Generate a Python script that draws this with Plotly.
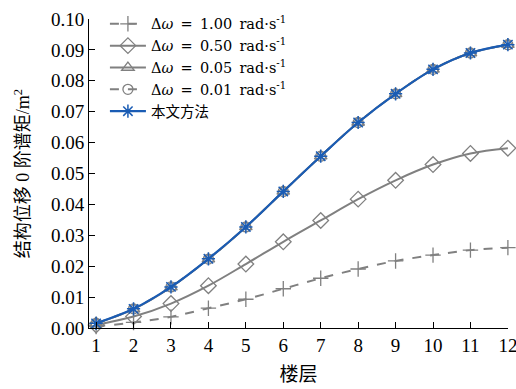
import plotly.graph_objects as go

floors = [1, 2, 3, 4, 5, 6, 7, 8, 9, 10, 11, 12]
dw_100 = [0.0005, 0.0018, 0.0036, 0.0064, 0.0093, 0.0127, 0.0161, 0.0191, 0.0217, 0.0236, 0.0252, 0.0260]
dw_050 = [0.0010, 0.0037, 0.0079, 0.0137, 0.0207, 0.0279, 0.0348, 0.0417, 0.0478, 0.0529, 0.0565, 0.0582]
dw_005 = [0.0015, 0.0061, 0.0132, 0.0223, 0.0327, 0.0442, 0.0556, 0.0665, 0.0758, 0.0837, 0.0890, 0.0917]
dw_001 = [0.0015, 0.0062, 0.0133, 0.0223, 0.0327, 0.0442, 0.0556, 0.0665, 0.0758, 0.0837, 0.0890, 0.0917]
proposed = [0.0015, 0.0062, 0.0133, 0.0224, 0.0327, 0.0442, 0.0556, 0.0665, 0.0758, 0.0837, 0.0890, 0.0917]

SP = "\u2002"
names = [
    f"Δ<i>ω</i>{SP}={SP}1.00{SP}rad·s<sup>-1</sup>",
    f"Δ<i>ω</i>{SP}={SP}0.50{SP}rad·s<sup>-1</sup>",
    f"Δ<i>ω</i>{SP}={SP}0.05{SP}rad·s<sup>-1</sup>",
    f"Δ<i>ω</i>{SP}={SP}0.01{SP}rad·s<sup>-1</sup>",
    "本文方法",
]
y_ticks = [0.00, 0.01, 0.02, 0.03, 0.04, 0.05, 0.06, 0.07, 0.08, 0.09, 0.10]

GRAY = "#808080"
BLUE = "#1a5cb4"
FONT = "Liberation Serif, Noto Sans CJK SC, serif"
LFONT = "DejaVu Serif, Noto Sans CJK SC, serif"

fig = go.Figure()
fig.add_trace(go.Scatter(x=floors, y=dw_100, name=names[0], mode="lines+markers",
                         line=dict(color=GRAY, width=2, dash="dash", shape="spline"),
                         marker=dict(symbol="cross-thin-open", size=11, line=dict(color=GRAY, width=1.3)),
                         cliponaxis=False))
fig.add_trace(go.Scatter(x=floors, y=dw_050, name=names[1], mode="lines+markers",
                         line=dict(color=GRAY, width=2, shape="spline"),
                         marker=dict(symbol="diamond-open", size=12, color=GRAY, line=dict(color=GRAY, width=1.3)),
                         cliponaxis=False))
fig.add_trace(go.Scatter(x=floors, y=dw_005, name=names[2], mode="lines+markers",
                         line=dict(color=GRAY, width=2, shape="spline"),
                         marker=dict(symbol="triangle-up-open", size=11, color=GRAY, line=dict(color=GRAY, width=1.3)),
                         cliponaxis=False))
fig.add_trace(go.Scatter(x=floors, y=dw_001, name=names[3], mode="lines+markers",
                         line=dict(color=GRAY, width=2, dash="dash", shape="spline"),
                         marker=dict(symbol="circle-open", size=10, color=GRAY, line=dict(color=GRAY, width=1.3)),
                         cliponaxis=False))
fig.add_trace(go.Scatter(x=floors, y=proposed, name=names[4], mode="lines+markers",
                         line=dict(color=BLUE, width=2.2, shape="spline"),
                         marker=dict(symbol="asterisk-open", size=11, color=BLUE, line=dict(color=BLUE, width=1.5)),
                         cliponaxis=False))

fig.update_layout(
    width=516, height=389,
    margin=dict(l=89, r=8, t=15, b=61),
    paper_bgcolor="white", plot_bgcolor="white",
    font=dict(family=FONT, size=17, color="black"),
    showlegend=True,
    legend=dict(x=0.038, y=1.036, xanchor="left", yanchor="top",
                bgcolor="rgba(0,0,0,0)", font=dict(size=14.5, family=LFONT),
                tracegroupgap=0, itemwidth=36),
    xaxis=dict(range=[0.81, 12.003], tickvals=floors, ticktext=[str(f) for f in floors],
               ticks="inside", ticklen=6, tickcolor="black", showline=True, linecolor="black",
               linewidth=1, showgrid=False, zeroline=False, mirror=False,
               ticklabeloverflow="allow", automargin=False,
               tickfont=dict(size=19, family=FONT),
               title=dict(text="楼层", font=dict(size=19, family=FONT), standoff=12)),
    yaxis=dict(range=[0, 0.1], tickvals=y_ticks, tickformat=".2f",
               ticks="inside", ticklen=6, tickcolor="black", showline=True, linecolor="black",
               linewidth=1, showgrid=False, zeroline=False, mirror=False,
               ticklabeloverflow="allow", automargin=False,
               tickfont=dict(size=19, family=FONT),
               title=dict(text="结构位移 0 阶谱矩/m<sup>2</sup>", font=dict(size=18, family=FONT), standoff=16)),
)

fig.write_html("out.html")
